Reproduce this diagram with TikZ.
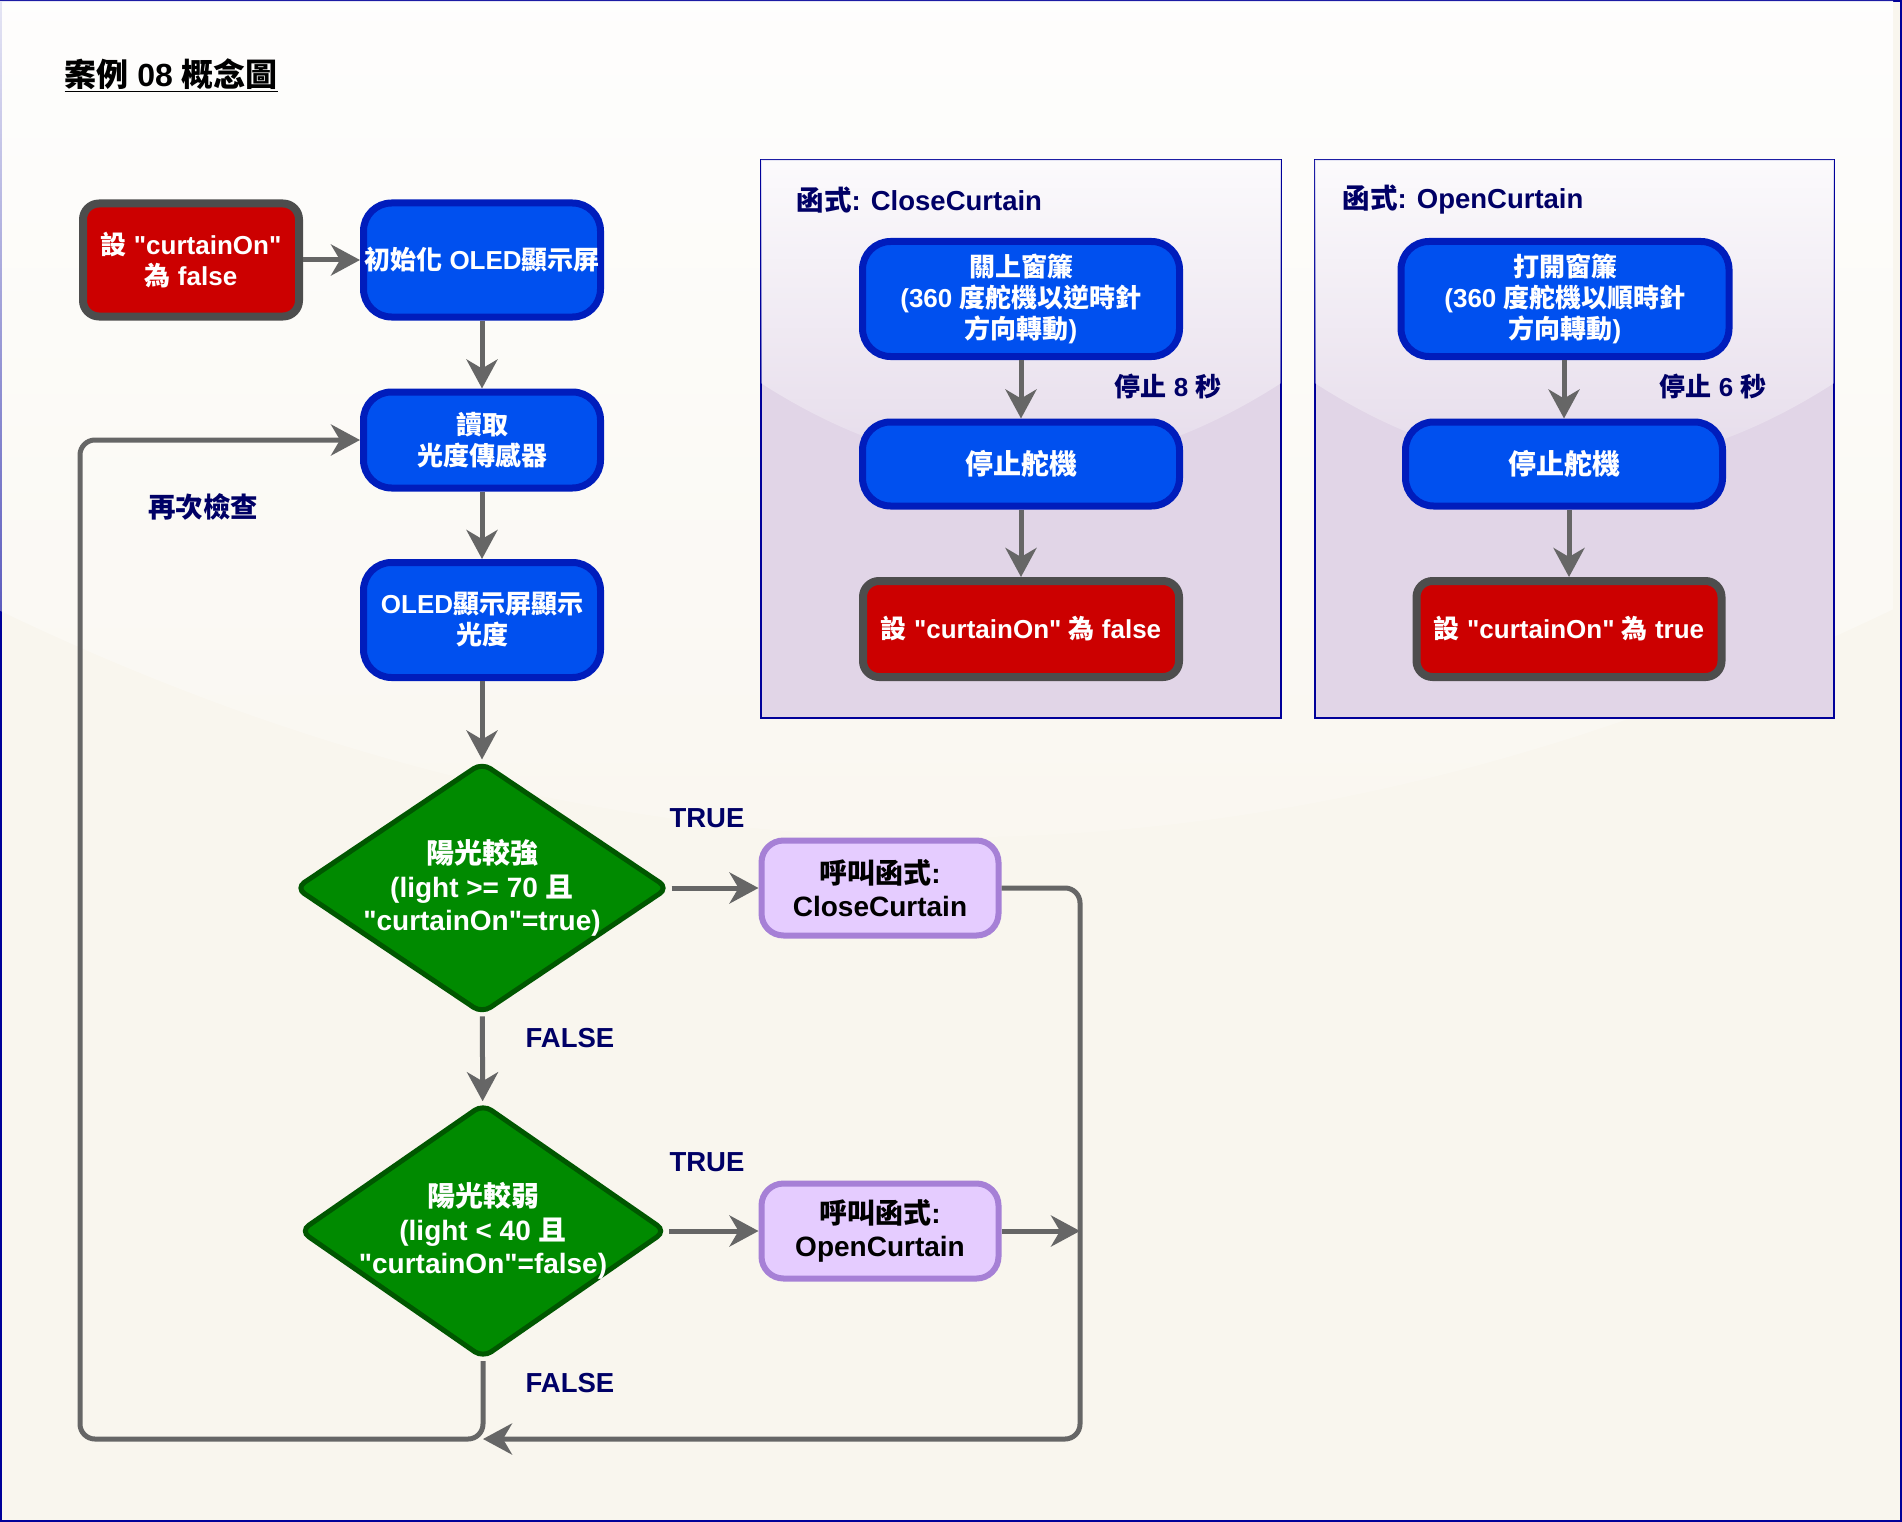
\documentclass[tikz,border=0pt]{standalone}
\usepackage{fontspec}
\setmainfont{Liberation Sans}[Ligatures=TeXOff]
\newfontfamily\cjkfont{Noto Sans CJK TC}
\newcommand{\zh}[1]{{\cjkfont #1}}
\usepackage{xcolor}
\usetikzlibrary{arrows.meta,shapes.geometric,fadings,positioning}

\definecolor{bluefill}{HTML}{0050EF}
\definecolor{blueedge}{HTML}{001DBC}
\definecolor{redfill}{HTML}{CC0000}
\definecolor{grayedge}{HTML}{4D4D4D}
\definecolor{greenfill}{HTML}{008A00}
\definecolor{greenedge}{HTML}{005700}
\definecolor{purplefill}{HTML}{E5CCFF}
\definecolor{purpleedge}{HTML}{A680D6}
\definecolor{flowgray}{HTML}{666666}
\definecolor{navytext}{HTML}{000066}
\definecolor{pagefill}{HTML}{F9F6EE}
\definecolor{frameedge}{HTML}{000099}
\definecolor{groupfill}{HTML}{E1D5E7}

\tikzfading[name=glassfade, top color=transparent!10, bottom color=transparent!90]

% glossy top overlay: x, y, width, height
\newcommand{\glass}[4]{%
  \fill[white, path fading=glassfade] (#1,#2) -- (#1,{#2+0.4*#4})
    .. controls ({#1+#3/3},{#2+0.6*#4}) and ({#1+2*#3/3},{#2+0.6*#4}) .. ({#1+#3},{#2+0.4*#4})
    -- ({#1+#3},#2) -- cycle;}

\tikzset{
  boxfont/.style={font=\fontsize{26}{31}\selectfont\bfseries},
  bigfont/.style={font=\fontsize{28}{33.5}\selectfont\bfseries},
  process/.style={boxfont, rounded corners=28pt, line width=7pt, draw=blueedge, fill=bluefill, text=white, align=center, inner sep=0pt},
  setvar/.style={boxfont, rounded corners=16pt, line width=8pt, draw=grayedge, fill=redfill, text=white, align=center, inner sep=0pt},
  callfn/.style={bigfont, rounded corners=22pt, line width=6pt, draw=purpleedge, fill=purplefill, text=black, align=center, inner sep=0pt, minimum width=237, minimum height=95},
  decision/.style={diamond, rounded corners=10pt, line width=5pt, draw=greenedge, fill=greenfill, inner sep=0pt},
  decisiontext/.style={bigfont, text=white, align=center},
  tag/.style={font=\fontsize{27.5}{33}\selectfont\bfseries, text=navytext},
  flow/.style={draw=flowgray, line width=5pt, -{Stealth[length=29pt, width=31pt, inset=9pt]}},
}

\begin{document}
\begin{tikzpicture}[x=1pt, y=-1pt]
\useasboundingbox (0,0) rectangle (1902,1522);

% page
\draw[fill=pagefill, draw=frameedge, line width=2pt] (1,1) rectangle (1901,1521);
\glass{0}{0}{1902}{1522}

\node[anchor=west, font=\fontsize{32}{38}\selectfont\bfseries] (title) at (61,75) {\underline{\zh{案例} 08 \zh{概念圖}}};

% function groups
\draw[fill=groupfill, draw=frameedge, line width=2pt] (761,160) rectangle (1281,718);
\glass{761}{160}{520}{558}
\draw[fill=groupfill, draw=frameedge, line width=2pt] (1315,160) rectangle (1834,718);
\glass{1315}{160}{519}{558}

\node[tag, anchor=west] (closetitle) at (793,200) {\zh{函式}: CloseCurtain};
\node[tag, anchor=west] (opentitle) at (1339,200) {\zh{函式}: OpenCurtain};

% main flow
\node[setvar, minimum width=216, minimum height=113] (init) at (191,260) {\zh{設} "curtainOn"\\\zh{為} false};
\node[process, minimum width=237, minimum height=114] (oled) at (482,260) {\zh{初始化} OLED\zh{顯示屏}};
\node[process, minimum width=237, minimum height=96] (read) at (482,440) {\zh{讀取}\\\zh{光度傳感器}};
\node[process, minimum width=237, minimum height=115] (show) at (482,620) {OLED\zh{顯示屏顯示}\\\zh{光度}};

\node[decision, minimum width=374, minimum height=252] (strong) at (482,888) {};
\node[decisiontext] (strongtext) at (strong) {\zh{陽光較強}\\(light >= 70 \zh{且}\\"curtainOn"=true)};
\node[decision, minimum width=367, minimum height=255] (weak) at (483,1231) {};
\node[decisiontext] (weaktext) at (weak) {\zh{陽光較弱}\\(light < 40 \zh{且}\\"curtainOn"=false)};

\node[callfn] (callclose) at (880,888) {\zh{呼叫函式}:\\CloseCurtain};
\node[callfn] (callopen) at (880,1231) {\zh{呼叫函式}:\\OpenCurtain};

% CloseCurtain
\node[process, minimum width=317, minimum height=115] (closeturn) at (1021,299) {\zh{關上窗簾}\\(360 \zh{度舵機以逆時針}\\\zh{方向轉動})};
\node[process, bigfont, minimum width=317, minimum height=84] (closestop) at (1021,464) {\zh{停止舵機}};
\node[setvar, minimum width=316, minimum height=96] (closeset) at (1021,629) {\zh{設} "curtainOn" \zh{為} false};

% OpenCurtain
\node[process, minimum width=328, minimum height=115] (openturn) at (1565,299) {\zh{打開窗簾}\\(360 \zh{度舵機以順時針}\\\zh{方向轉動})};
\node[process, bigfont, minimum width=317, minimum height=84] (openstop) at (1564,464) {\zh{停止舵機}};
\node[setvar, minimum width=305, minimum height=96] (openset) at (1569,629) {\zh{設} "curtainOn" \zh{為} true};

% labels
\node[tag] (again) at (203,507) {\zh{再次檢查}};
\node[tag] (true1) at (707,818) {TRUE};
\node[tag] (false1) at (570,1038) {FALSE};
\node[tag] (true2) at (707,1162) {TRUE};
\node[tag] (false2) at (570,1383) {FALSE};
\node[tag, font=\fontsize{26}{31}\selectfont\bfseries] (wait8) at (1168,386) {\zh{停止} 8 \zh{秒}};
\node[tag, font=\fontsize{26}{31}\selectfont\bfseries] (wait6) at (1713,386) {\zh{停止} 6 \zh{秒}};

\coordinate (loopleft) at (80,1439);
\coordinate (rightrail) at (1080,1439);
\coordinate (join) at (483,1439);

% connectors
\draw[flow] (init) -- (oled);
\draw[flow] (oled) -- (read);
\draw[flow] (read) -- (show);
\draw[flow] (show) -- (strong);
\draw[flow] (strong) -- (callclose);
\draw[flow] (strong) -- (weak);
\draw[flow] (weak) -- (callopen);
\draw[flow] (callopen.east) -- (callopen.east -| rightrail);
\draw[flow, rounded corners=15pt] (callclose.east) -| (rightrail) -- (join);
\draw[flow, rounded corners=15pt] (weak.south) |- (loopleft) |- (read.west);

\draw[flow] (closeturn) -- (closestop);
\draw[flow] (closestop) -- (closeset);
\draw[flow] (openturn.south -| openstop) -- (openstop);
\draw[flow] (openstop.south -| openset) -- (openset);
\end{tikzpicture}
\end{document}
